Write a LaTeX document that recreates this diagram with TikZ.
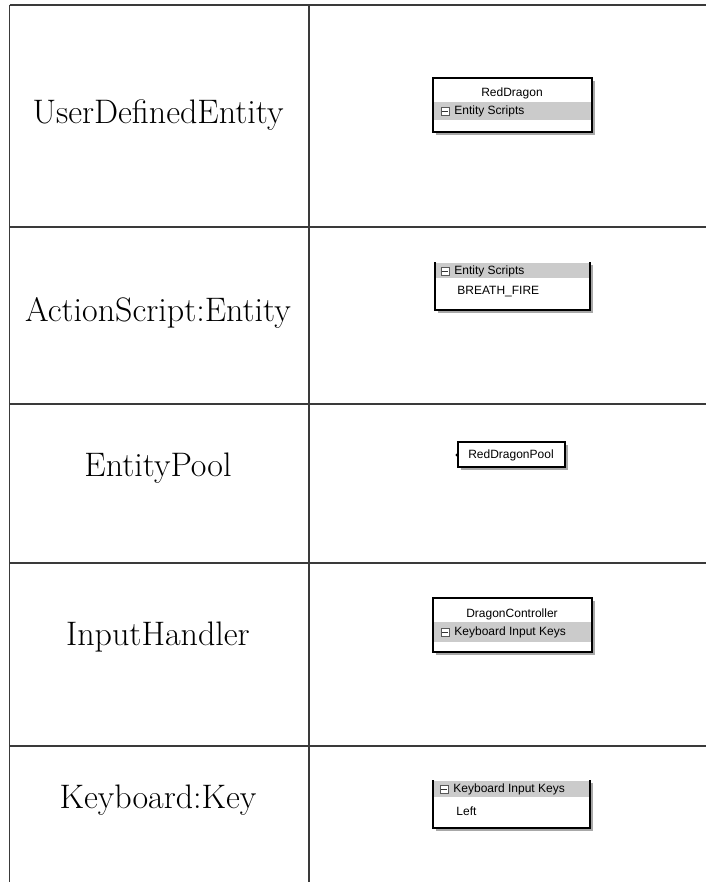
\documentclass[tikz,border=0pt]{standalone}
\usepackage{fontspec}
\newfontfamily\uifont{Liberation Sans}
\definecolor{bandgrey}{HTML}{CBCBCB}
\definecolor{shadowgrey}{HTML}{A8A8A8}
\definecolor{ruleline}{HTML}{3A3A3A}
\begin{document}
\begin{tikzpicture}[x=0.5pt, y=-0.5pt,
  rule/.style={draw=ruleline, line width=0.8pt},
  label/.style={font=\fontsize{17}{20}\selectfont, inner sep=0pt},
  frame/.style={draw=black, line width=1.2pt},
  shadowfill/.style={fill=shadowgrey},
  band/.style={fill=bandgrey},
  uititle/.style={font=\uifont\fontsize{6}{7}\selectfont, inner sep=0pt},
  uiitem/.style={font=\uifont\fontsize{6}{7}\selectfont, inner sep=0pt, anchor=west},
  minusbox/.style={draw=black!65, fill=white, line width=0.35pt, minimum width=4pt, minimum height=4pt, inner sep=0pt}
]
\useasboundingbox (0,0) rectangle (706,882);

% table rules
\draw[rule] (9.5,5) -- (706,5);
\draw[rule] (9.5,5) -- (9.5,882);
\draw[rule] (309,5) -- (309,882);
\draw[rule] (9.5,227) -- (706,227);
\draw[rule] (9.5,404) -- (706,404);
\draw[rule] (9.5,563) -- (706,563);
\draw[rule] (9.5,746) -- (706,746);

% left column labels
\node[label] (l1) at (158,115) {UserDefinedEntity};
\node[label] (l2) at (158,313) {ActionScript:Entity};
\node[label] (l3) at (158,468) {EntityPool};
\node[label] (l4) at (158,637) {InputHandler};
\node[label] (l5) at (158,800) {Keyboard:Key};

% RedDragon entity
\fill[shadowfill] (436,81) rectangle (595,135);
\fill[white] (433,78) rectangle (592,132);
\fill[band] (434,102) rectangle (591,120);
\draw[frame] (433,78) rectangle (592,132);
\node[uititle] (rd) at (512,93) {RedDragon};
\node[minusbox] (rdm) at (445,111) {};
\draw[black!80, line width=0.35pt] ([xshift=0.8pt]rdm.west) -- ([xshift=-0.8pt]rdm.east);
\node[uiitem] (rds) at (454,111) {Entity Scripts};

% Entity Scripts list
\fill[shadowfill] (438,265) rectangle (593,313);
\fill[white] (435,262) rectangle (590,310);
\fill[band] (436,263) rectangle (589,278);
\draw[frame] (435,262) -- (435,310) -- (590,310) -- (590,262);
\node[minusbox] (esm) at (445,271) {};
\draw[black!80, line width=0.35pt] ([xshift=0.8pt]esm.west) -- ([xshift=-0.8pt]esm.east);
\node[uiitem] (ess) at (454,271) {Entity Scripts};
\node[uiitem] (bf) at (457,292) {BREATH\_FIRE};

% RedDragonPool
\fill[shadowfill] (461,445) rectangle (568,470);
\fill[white] (458,442) rectangle (565,467);
\draw[frame] (458,442) rectangle (565,467);
\fill[black] (457,455) circle (1.6);
\node[uititle] (pool) at (511,455) {RedDragonPool};

% DragonController input handler
\fill[shadowfill] (436,601) rectangle (595,655);
\fill[white] (433,598) rectangle (592,652);
\fill[band] (434,622) rectangle (591,642);
\draw[frame] (433,598) rectangle (592,652);
\node[uititle] (dc) at (512,614) {DragonController};
\node[minusbox] (dcm) at (445,632) {};
\draw[black!80, line width=0.35pt] ([xshift=0.8pt]dcm.west) -- ([xshift=-0.8pt]dcm.east);
\node[uiitem] (dck) at (454,632) {Keyboard Input Keys};

% Keyboard Input Keys list
\fill[shadowfill] (436,783) rectangle (593,831);
\fill[white] (433,780) rectangle (590,828);
\fill[band] (434,781) rectangle (589,797);
\draw[frame] (433,780) -- (433,828) -- (590,828) -- (590,780);
\node[minusbox] (kkm) at (444,789) {};
\draw[black!80, line width=0.35pt] ([xshift=0.8pt]kkm.west) -- ([xshift=-0.8pt]kkm.east);
\node[uiitem] (kks) at (453,789) {Keyboard Input Keys};
\node[uiitem] (left) at (456,811) {Left};
\end{tikzpicture}
\end{document}
